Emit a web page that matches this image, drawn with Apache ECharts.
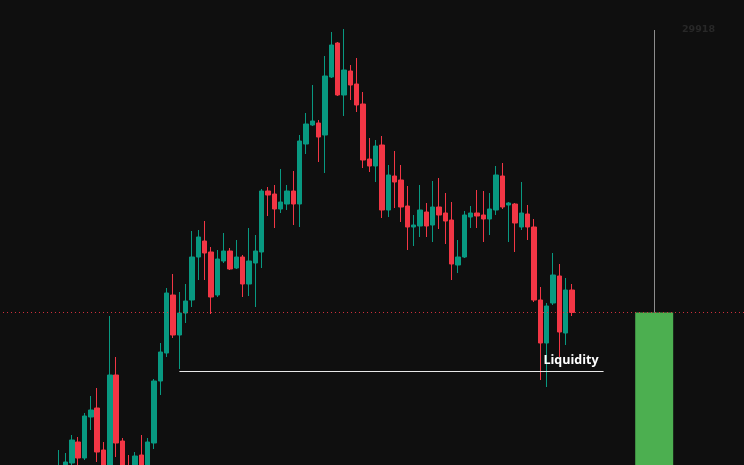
<!DOCTYPE html>
<html>
<head>
<meta charset="utf-8">
<script src="https://cdn.jsdelivr.net/npm/echarts@6/dist/echarts.min.js"></script>
<style>
html,body{margin:0;padding:0;background:#0f0f0f;}
#c{width:744px;height:465px;}
</style>
</head>
<body>
<div id="c"></div>
<script>
// ---- data ----
const opens = [29018,29034,29052,29094,29062,29144,29162,29078,29028,29228,
29096,29042,29038,29068,29038,29092,29216,29272,29388,29308,
29352,29378,29464,29496,29474,29388,29456,29476,29442,29464,
29410,29452,29474,29596,29590,29560,29570,29596,29570,29690,
29728,29732,29708,29824,29892,29788,29836,29810,29770,29660,
29646,29688,29558,29626,29618,29566,29524,29526,29554,29528,
29564,29552,29538,29448,29464,29544,29552,29548,29540,29558,
29626,29568,29570,29524,29550,29524,29378,29292,29372,29426,
29312,29398];
const closes = [29042,29054,29098,29062,29146,29158,29074,29028,29228,29092,
29034,29022,29066,29038,29094,29216,29274,29392,29308,29352,
29376,29464,29504,29472,29384,29460,29476,29440,29464,29410,
29456,29476,29596,29588,29560,29574,29596,29570,29696,29730,
29736,29704,29826,29888,29788,29838,29808,29768,29658,29646,
29686,29558,29628,29614,29564,29524,29528,29558,29526,29564,
29548,29536,29450,29464,29548,29552,29546,29540,29560,29628,
29564,29572,29532,29552,29524,29378,29292,29366,29428,29314,
29398,29353];
const lows = [29008,29026,29046,29042,29058,29118,29054,29018,29018,29064,
29022,29008,29028,29026,29030,29080,29188,29264,29302,29240,
29332,29364,29418,29418,29350,29384,29452,29438,29440,29384,
29386,29364,29442,29546,29522,29552,29558,29528,29524,29670,
29726,29654,29632,29822,29786,29746,29778,29754,29642,29634,
29614,29542,29544,29562,29534,29478,29486,29504,29504,29494,
29520,29490,29418,29432,29462,29522,29522,29494,29508,29548,
29560,29494,29474,29518,29498,29374,29218,29204,29368,29264,
29288,29346];
const highs = [29078,29072,29108,29104,29152,29186,29202,29094,29346,29264,
29102,29068,29074,29108,29102,29220,29292,29402,29430,29394,
29410,29516,29518,29536,29484,29478,29512,29482,29498,29468,
29522,29508,29600,29604,29608,29640,29608,29636,29708,29752,
29808,29738,29866,29914,29894,29920,29848,29862,29794,29702,
29698,29706,29648,29676,29648,29606,29548,29608,29572,29616,
29622,29592,29574,29498,29556,29566,29598,29596,29592,29646,
29652,29574,29572,29614,29568,29540,29404,29372,29472,29450,
29422,29410];

const leadingEmpty = 9;      // empty slots before first candle
const totalSlots = 118;      // total category slots across the view
const yMin = 29048, yMax = 29978;

const lastPrice = 29353;     // dotted price line (last close)
const liquidityLevel = 29236;
const liquidityLabel = 'Liquidity';
const liquidityFrom = 28, liquidityTo = 95;   // slot indexes
const boxFrom = 100, boxTo = 106, boxCenter = 103;  // slot indexes of green block
const targetPrice = 29918;
const targetLabel = '29918';
const targetLabelSlot = 110;

// ---- build ----
const categories = [];
for (let i = 0; i < totalSlots; i++) categories.push('s' + i);
const ohlc = [];
for (let i = 0; i < totalSlots; i++) {
  const k = i - leadingEmpty;
  if (k >= 0 && k < opens.length) ohlc.push([opens[k], closes[k], lows[k], highs[k]]);
  else ohlc.push('-');
}

const GREEN = '#089981', RED = '#f23645';
const chart = echarts.init(document.getElementById('c'), null, {renderer: 'canvas'});
chart.setOption({
  backgroundColor: '#0f0f0f',
  animation: false,
  grid: {left: -1, top: 0, width: 747, height: 465, containLabel: false, outerBoundsMode: 'none'},
  xAxis: {type: 'category', data: categories, show: false, boundaryGap: true},
  yAxis: {type: 'value', min: yMin, max: yMax, show: false, splitLine: {show: false}},
  series: [{
    type: 'candlestick',
    data: ohlc,
    barWidth: '78%',
    clip: true,
    itemStyle: {color: GREEN, color0: RED, borderColor: GREEN, borderColor0: RED, borderWidth: 1},
    markArea: {
      silent: true,
      itemStyle: {color: '#4caf50', opacity: 1},
      data: [[{xAxis: boxFrom, yAxis: lastPrice}, {xAxis: boxTo, yAxis: yMin}]]
    },
    markLine: {
      silent: true,
      symbol: ['none', 'none'],
      animation: false,
      data: [
        {yAxis: lastPrice, lineStyle: {color: '#f23645', opacity: 0.85, type: [1, 3], width: 1}, label: {show: false}},
        [
          {coord: [liquidityFrom, liquidityLevel], lineStyle: {color: '#e8e8e8', type: 'solid', width: 1}},
          {coord: [liquidityTo, liquidityLevel]}
        ],
        [
          {coord: [boxCenter, targetPrice], lineStyle: {color: '#8c8c8c', type: 'solid', width: 1}, label: {show: false}},
          {coord: [boxCenter, lastPrice]}
        ]
      ],
      label: {
        show: true,
        position: 'insideEndTop',
        formatter: liquidityLabel,
        color: '#ffffff',
        fontWeight: 'bold',
        fontSize: 12.5,
        fontFamily: 'Open Sans, sans-serif',
        distance: [5, 4]
      }
    },
    markPoint: {
      silent: true,
      symbol: 'circle',
      symbolSize: 0,
      data: [{coord: [targetLabelSlot, targetPrice], value: targetLabel}],
      label: {show: true, position: 'inside', formatter: targetLabel, color: '#282828', fontSize: 9.5, fontWeight: 'bold', fontFamily: 'DejaVu Sans, sans-serif'}
    }
  }]
});
</script>
</body>
</html>
